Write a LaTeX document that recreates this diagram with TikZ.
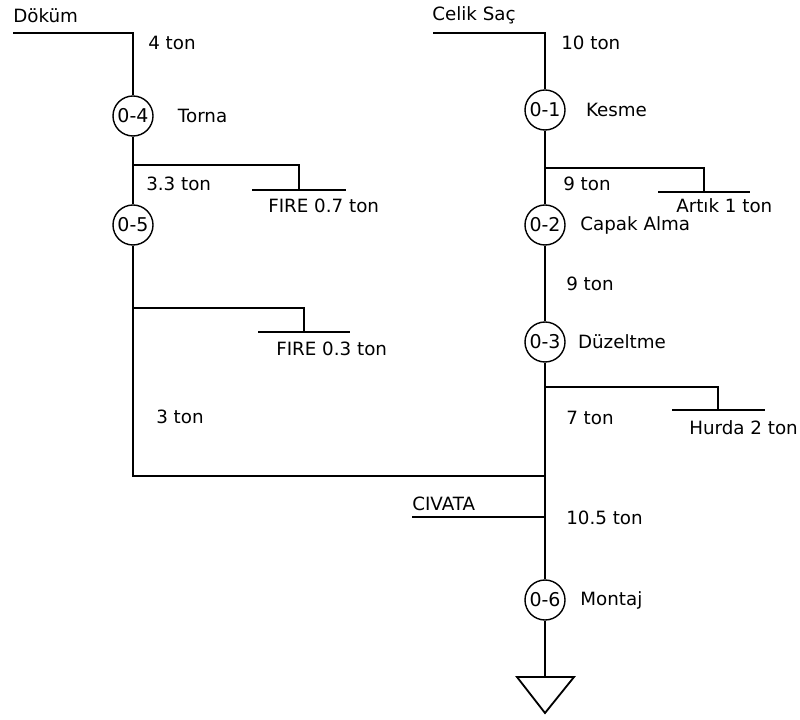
\documentclass[tikz,border=0pt]{standalone}
\usepackage{fontspec}
\setmainfont{DejaVu Sans}
\usetikzlibrary{positioning,calc}

\begin{document}
\begin{tikzpicture}[x=0.025cm, y=-0.025cm, >=latex, font=\fontsize{13}{15}\selectfont]
  % Styles
  \tikzstyle{op} = [draw, circle, line width=1pt, minimum size=1cm, inner sep=0pt, fill=white, font=\fontsize{13.5}{15}\selectfont]
  \tikzstyle{flow} = [line width=1.3pt]
  \tikzstyle{lbl} = [anchor=west, inner sep=0pt]

  \useasboundingbox (0,0) rectangle (800,720);

  % Nodes
  \coordinate (dokumIn) at (13,33);
  \coordinate (dokumK) at (133,33);
  \node [op] (o4) at (133,116) {0-4};
  \coordinate (b4) at (133,165);
  \coordinate (f4) at (299,165);
  \coordinate (f4b) at (299,190);
  \node [op] (o5) at (133,225) {0-5};
  \coordinate (b5) at (133,308);
  \coordinate (f5) at (304,308);
  \coordinate (f5b) at (304,332);
  \coordinate (jL) at (133,476);
  \coordinate (jR) at (545,476);

  \coordinate (celikIn) at (433,33);
  \coordinate (celikK) at (545,33);
  \node [op] (o1) at (545,110) {0-1};
  \coordinate (b1) at (545,168);
  \coordinate (f1) at (704,168);
  \coordinate (f1b) at (704,192);
  \node [op] (o2) at (545,225) {0-2};
  \node [op] (o3) at (545,342) {0-3};
  \coordinate (b3) at (545,387);
  \coordinate (f3) at (718,387);
  \coordinate (f3b) at (718,410);
  \coordinate (civ) at (412,517);
  \coordinate (civK) at (545,517);
  \node [op] (o6) at (545,600) {0-6};
  \coordinate (store) at (545,677);

  % Texts
  \node [lbl] (dokum) at (13,16) {Döküm};
  \node [lbl] (celik) at (432,15) {Celik Saç};
  \node [lbl] (civata) at (412,504) {CIVATA};
  \node [lbl, right=0.6cm of o4] (torna) {Torna};
  \node [lbl, right=0.5cm of o1] (kesme) {Kesme};
  \node [lbl, right=0.36cm of o2] (capak) {Capak Alma};
  \node [lbl, right=0.3cm of o3] (duzelt) {Düzeltme};
  \node [lbl, right=0.36cm of o6] (montaj) {Montaj};

  \node [lbl] (t4) at (148,43) {4 ton};
  \node [lbl] (t33) at (146,184) {3.3 ton};
  \node [lbl] (t3) at (156,417) {3 ton};
  \node [lbl] (t10) at (561,43) {10 ton};
  \node [lbl] (t9a) at (563,184) {9 ton};
  \node [lbl] (t9b) at (566,284) {9 ton};
  \node [lbl] (t7) at (566,418) {7 ton};
  \node [lbl] (t105) at (566,518) {10.5 ton};

  \node [lbl] (fire1) at (268,206) {FIRE 0.7 ton};
  \node [lbl] (fire2) at (276,349) {FIRE 0.3 ton};
  \node [lbl] (artik) at (676,206) {Artık 1 ton};
  \node [lbl] (hurda) at (689,428) {Hurda 2 ton};

  % Connections
  \draw [flow] (dokumIn) -- (dokumK) -- (o4);
  \draw [flow] (o4) -- (o5);
  \draw [flow] (b4) -- (f4) -- (f4b);
  \draw [flow] (f4b) ++(-47,0) -- ++(94,0);
  \draw [flow] (o5) -- (jL) -- (jR);
  \draw [flow] (b5) -- (f5) -- (f5b);
  \draw [flow] (f5b) ++(-46,0) -- ++(92,0);

  \draw [flow] (celikIn) -- (celikK) -- (o1);
  \draw [flow] (o1) -- (o2);
  \draw [flow] (b1) -- (f1) -- (f1b);
  \draw [flow] (f1b) ++(-46,0) -- ++(92,0);
  \draw [flow] (o2) -- (o3);
  \draw [flow] (o3) -- (o6);
  \draw [flow] (b3) -- (f3) -- (f3b);
  \draw [flow] (f3b) ++(-46,0) -- ++(93,0);
  \draw [flow] (civ) -- (civK);
  \draw [flow] (o6) -- (store);
  \draw [flow] (store) ++(-28,0) -- ++(57,0) -- ($(store)+(0,36)$) -- cycle;

\end{tikzpicture}
\end{document}
